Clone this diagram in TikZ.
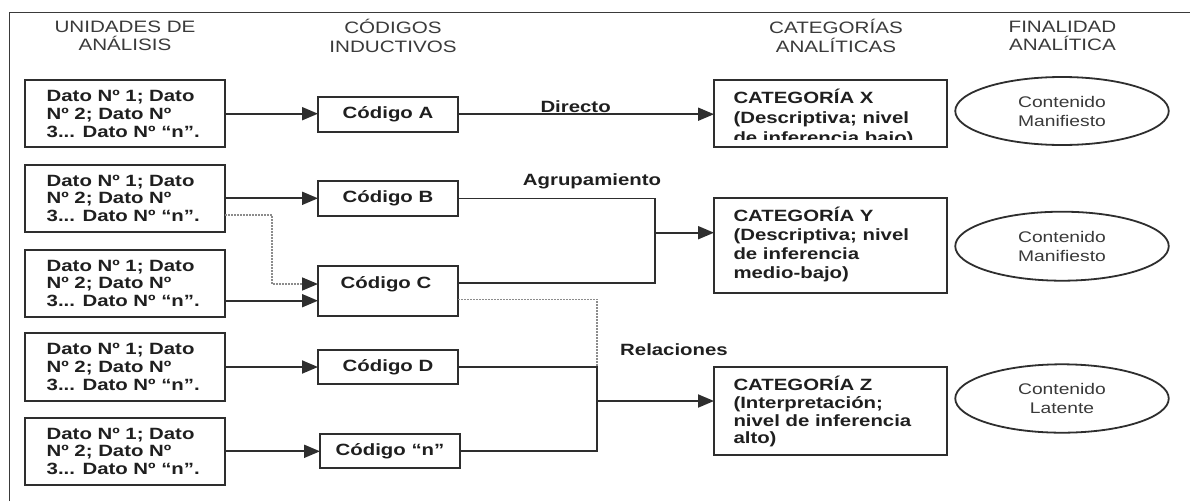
\documentclass[tikz,border=0pt]{standalone}
\usepackage{fontspec}
\setmainfont{Liberation Sans}[FakeStretch=1.25]
\usetikzlibrary{arrows.meta,shapes.geometric,calc}
\definecolor{ink}{HTML}{1F1F1F}
\definecolor{hdr}{HTML}{3A3A3A}
\definecolor{ln}{HTML}{2E2E2E}
\definecolor{dotc}{HTML}{8C8C8C}
\tikzset{
  every node/.style={inner sep=0pt, outer sep=0pt},
  bt/.style={font=\fontsize{16.3}{17.8}\selectfont\bfseries, text=ink},
  ht/.style={font=\fontsize{16.5}{18.3}\selectfont, text=hdr, align=center},
  et/.style={font=\fontsize{15.4}{19}\selectfont, text=hdr, align=center},
  boxe/.style={draw=ln, line width=2pt, rectangle},
  datbox/.style={boxe, minimum width=199.9pt, minimum height=67.3pt},
  codbox/.style={boxe, bt, minimum width=140pt, minimum height=35pt},
  catbox/.style={boxe, minimum width=233pt},
  conn/.style={draw=ln, line width=1.9pt},
  arr/.style={conn, -{Triangle[length=16pt,width=13pt]}},
  dotl/.style={draw=dotc, line width=1.6pt, dash pattern=on 1.5pt off 1.5pt},
  ell/.style={draw=ln, line width=1.8pt, ellipse, minimum width=213.5pt, minimum height=68pt, et},
  dtext/.style={bt, align=left, anchor=west},
}
\begin{document}
\begin{tikzpicture}[x=1pt,y=-1pt]
\useasboundingbox (0,0) rectangle (1190,501);
\fill[white] (0,0) rectangle (1190,501);
% frame
\draw[draw=hdr, line width=1.5pt] (9.6,501) -- (9.6,12.7) -- (1190,12.7);

% headers
\node[ht] (h1) at (125,36) {UNIDADES DE\\ANÁLISIS};
\node[ht] (h2) at (393,36) {CÓDIGOS\\INDUCTIVOS};
\node[ht] (h3) at (836,36) {CATEGORÍAS\\ANALÍTICAS};
\node[ht] (h4) at (1062.5,36) {FINALIDAD\\ANALÍTICA};

% data boxes
\foreach \i/\yy in {1/113.7,2/198.3,3/283.3,4/367,5/451.3}{
  \node[datbox] (d\i) at (125.3,\yy) {};
  \node[dtext] (d\i t) at (46.7,\yy) {Dato Nº 1; Dato\\Nº 2; Dato Nº\\3... Dato Nº “n”.};
}

% code boxes
\node[codbox] (cA) at (388,114.2) {Código A};
\node[codbox] (cB) at (388,198.5) {Código B};
\node[codbox, minimum height=50pt] (cC) at (388,291) {};
\node[bt] (cCt) at (386,284.5) {Código C};
\node[codbox, minimum height=34pt] (cD) at (388,367) {Código D};
\node[codbox, minimum height=34pt] (cn) at (390,451.3) {Código “n”};

% category boxes
\node[catbox, minimum height=66.7pt] (cX) at (830.5,113.3) {};
\begin{scope}
  \clip (714,80) rectangle (947,139.5);
  \node[dtext, font=\fontsize{16.3}{20}\selectfont\bfseries] (cXt) at (733.5,118.3)
    {CATEGORÍA X\\(Descriptiva; nivel\\de inferencia bajo)};
\end{scope}
\node[catbox, minimum height=94.4pt] (cY) at (830.5,245.5) {};
\node[dtext, font=\fontsize{16.3}{19}\selectfont\bfseries] (cYt) at (733.5,244.7)
  {CATEGORÍA Y\\(Descriptiva; nivel\\de inferencia\\medio-bajo)};
\node[catbox, minimum height=88.3pt] (cZ) at (830.5,410.8) {};
\node[dtext, font=\fontsize{16.3}{17.8}\selectfont\bfseries] (cZt) at (733.5,411.7)
  {CATEGORÍA Z\\(Interpretación;\\nivel de inferencia\\alto)};

% ellipses
\node[ell] (e1) at (1062,111) {Contenido\\Manifiesto};
\node[ell, minimum height=69pt] (e2) at (1062,246.2) {Contenido\\Manifiesto};
\node[ell, minimum height=68.4pt] (e3) at (1062,398.5) {Contenido\\Latente};

% labels
\node[bt] (lDir) at (575.6,106.5) {Directo};
\node[bt] (lAgr) at (592,181.5) {Agrupamiento};
\node[bt] (lRel) at (674,350) {Relaciones};

% data -> codes
\draw[arr] (d1.east) -- (d1.east -| cA.west);
\draw[arr] (d2.east) -- (d2.east -| cB.west);
\draw[dotl, -{Triangle[length=16pt,width=13pt,color=ln]}]
  ($(d2.east)+(0,16.7)$) -- ++(46.8,0) |- ($(cC.west)+(0,-7)$);
\draw[arr] ($(d3.east)+(0,17.4)$) -- ($(cC.west)+(0,9.7)$);
\draw[arr] (d4.east) -- (d4.east -| cD.west);
\draw[arr] (d5.east) -- (d5.east -| cn.west);

% codes -> categories
\draw[arr] (cA.east) -- (cA.east -| cX.west);

\coordinate (jY) at (655,232.7);
\draw[conn] (cB.east) -| (jY);
\draw[conn] ($(cC.east)+(0,-7.7)$) -| (jY);
\draw[arr] (jY) -- (jY -| cY.west);

\coordinate (jZ) at (597,401);
\draw[conn] (cD.east) -| (jZ);
\draw[conn] (cn.east) -| (jZ);
\draw[dotl] ($(cC.east)+(0,8.3)$) -| (cD.east -| jZ);
\draw[arr] (jZ) -- (jZ -| cZ.west);
\end{tikzpicture}
\end{document}
